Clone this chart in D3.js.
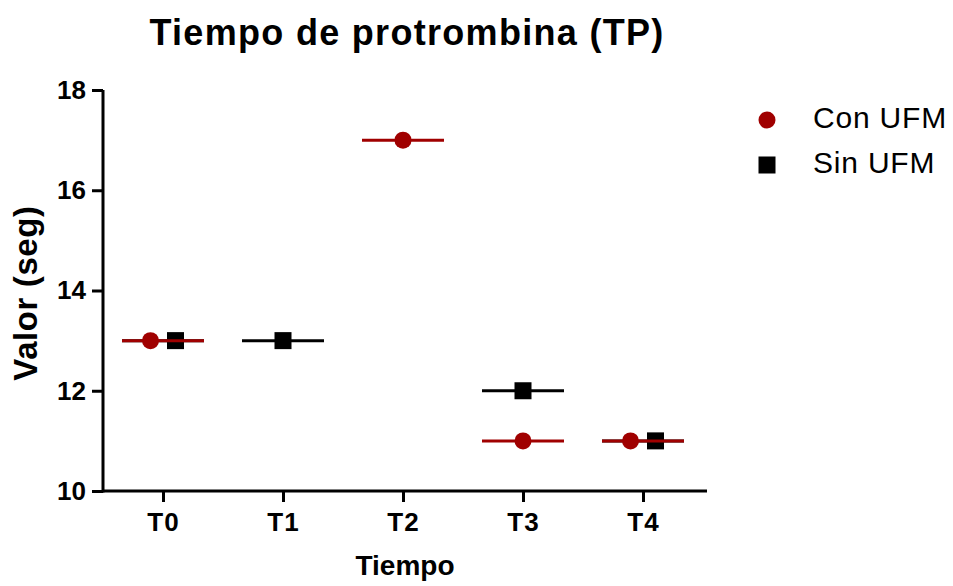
<!DOCTYPE html>
<html>
<head>
<meta charset="utf-8">
<script src="https://cdn.jsdelivr.net/npm/d3@7"></script>
<style>
    body { margin: 0; background: #fff; }
    svg { display: block; font-family: "Liberation Sans", Arial, sans-serif; }
</style>
</head>
<body>
<div id="chart"></div>
<script>
// Tiempo de protrombina - scatter with mean lines

const categories = ['T0', 'T1', 'T2', 'T3', 'T4'];
const conUFM = [13, null, 17, 11, 11];
const sinUFM = [13, 13, null, 12, 11];
const yTicks = [10, 12, 14, 16, 18];

const RED = '#a00000';
const BLACK = '#000000';

const width = 953;
const height = 586;
const margin = { top: 90, right: 250, bottom: 95, left: 103 };

const svg = d3.select('#chart')
    .append('svg')
    .attr('width', width)
    .attr('height', height);

const x = d3.scalePoint()
    .domain(categories)
    .range([margin.left, width - margin.right])
    .padding(0.5);

const y = d3.scaleLinear()
    .domain([10, 18])
    .range([height - margin.bottom, margin.top]);

// Axes
const xAxis = svg.append('g')
    .attr('transform', `translate(0,${y(10)})`)
    .call(d3.axisBottom(x).tickSize(11).tickPadding(11));

const yAxis = svg.append('g')
    .attr('transform', `translate(${margin.left},0)`)
    .call(d3.axisLeft(y).tickValues(yTicks).tickSize(11).tickPadding(6));

[xAxis, yAxis].forEach(g => {
    g.selectAll('path, line').attr('stroke', BLACK).attr('stroke-width', 3);
    g.selectAll('text')
        .attr('fill', BLACK)
        .style('font-size', '26px')
        .style('font-weight', 'bold')
        .style('font-family', '"Liberation Sans", Arial, sans-serif');
});
xAxis.selectAll('text').style('letter-spacing', '1px');
xAxis.select('.domain').attr('d', `M${margin.left},0H${width - margin.right + 4}`);
yAxis.select('.domain').attr('d', `M0,${y(18)}V${y(10) + 1.5}`);

// Dodge markers when both groups share the same value
const dodge = 12.5;
function offset(i, sign) {
    const a = conUFM[i], b = sinUFM[i];
    return (a !== null && b !== null && a === b) ? sign * dodge : 0;
}

const halfLine = 41;
const plot = svg.append('g');

// Sin UFM first so that Con UFM lines sit on top
categories.forEach((c, i) => {
    if (sinUFM[i] === null) return;
    plot.append('line')
        .attr('x1', x(c) - halfLine).attr('x2', x(c) + halfLine)
        .attr('y1', y(sinUFM[i])).attr('y2', y(sinUFM[i]))
        .attr('stroke', BLACK).attr('stroke-width', 3);
});
categories.forEach((c, i) => {
    if (sinUFM[i] === null) return;
    const s = 17;
    plot.append('rect')
        .attr('x', x(c) + offset(i, 1) - s / 2)
        .attr('y', y(sinUFM[i]) - s / 2)
        .attr('width', s).attr('height', s)
        .attr('fill', BLACK);
});
categories.forEach((c, i) => {
    if (conUFM[i] === null) return;
    plot.append('line')
        .attr('x1', x(c) - halfLine).attr('x2', x(c) + halfLine)
        .attr('y1', y(conUFM[i])).attr('y2', y(conUFM[i]))
        .attr('stroke', RED).attr('stroke-width', 3);
});
categories.forEach((c, i) => {
    if (conUFM[i] === null) return;
    plot.append('circle')
        .attr('cx', x(c) + offset(i, -1))
        .attr('cy', y(conUFM[i]))
        .attr('r', 8.5)
        .attr('fill', RED);
});

// Title and axis titles
svg.append('text')
    .attr('x', 407).attr('y', 45)
    .attr('text-anchor', 'middle')
    .style('font-size', '36px').style('font-weight', 'bold')
    .style('letter-spacing', '1.3px')
    .text('Tiempo de protrombina (TP)');

svg.append('text')
    .attr('x', 405).attr('y', 575)
    .attr('text-anchor', 'middle')
    .style('font-size', '28px').style('font-weight', 'bold')
    .text('Tiempo');

svg.append('text')
    .attr('transform', `translate(37,293) rotate(-90)`)
    .attr('text-anchor', 'middle')
    .style('font-size', '33px').style('font-weight', 'bold')
    .style('letter-spacing', '0.6px')
    .text('Valor (seg)');

// Legend
const legend = svg.append('g');
legend.append('circle')
    .attr('cx', 767).attr('cy', 120).attr('r', 8.5).attr('fill', RED);
legend.append('rect')
    .attr('x', 767 - 8.5).attr('y', 165 - 8.5).attr('width', 17).attr('height', 17).attr('fill', BLACK);
legend.append('text')
    .attr('x', 813).attr('y', 128)
    .style('font-size', '30px')
    .style('letter-spacing', '0.8px')
    .text('Con UFM');
legend.append('text')
    .attr('x', 813).attr('y', 173)
    .style('font-size', '30px')
    .style('letter-spacing', '0.8px')
    .text('Sin UFM');
</script>
</body>
</html>
